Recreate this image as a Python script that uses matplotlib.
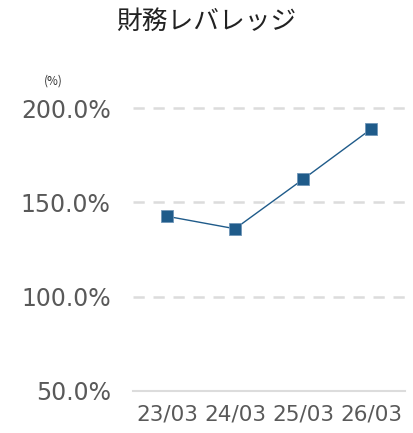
import matplotlib.pyplot as plt

categories = ["23/03", "24/03", "25/03", "26/03"]
leverage = [142.6, 136.0, 162.2, 188.8]
y_ticks = [50, 100, 150, 200]
y_labels = ["50.0%", "100.0%", "150.0%", "200.0%"]

W, H = 414, 433
fig = plt.figure(figsize=(W / 100, H / 100), dpi=100)
ax = fig.add_axes([133 / W, (H - 391) / H, (405 - 133) / W, (391 - 108) / H])

color = "#1f5b8a"
ax.plot(range(len(categories)), leverage, color=color, linewidth=1, marker="s",
        markersize=9, markerfacecolor=color, markeredgecolor="#6f96b8",
        markeredgewidth=0.6, clip_on=False, zorder=3)

ax.set_xlim(-0.5, len(categories) - 0.5)
ax.set_ylim(50, 200)
ax.set_xticks(range(len(categories)))
ax.set_xticklabels(categories, fontsize=15.5, color="#595959", family="DejaVu Sans")
ax.set_yticks(y_ticks)
ax.set_yticklabels(y_labels, fontsize=17, color="#595959", family="DejaVu Sans")
ax.tick_params(length=0, pad=16, axis="y")
ax.tick_params(length=0, pad=10, axis="x")

for v in y_ticks[1:]:
    ax.axhline(v, color="#dcdcdc", linewidth=1.8, linestyle=(0, (4.5, 3.5)), zorder=1, clip_on=False)

for side in ["top", "right", "left"]:
    ax.spines[side].set_visible(False)
ax.spines["bottom"].set_color("#dcdcdc")
ax.spines["bottom"].set_linewidth(1.5)

fig.text(206 / W, 1 - 22 / H, "財務レバレッジ", ha="center", va="center",
         fontsize=18.5, family="Noto Sans CJK JP", color="#222222")
fig.text(53 / W, 1 - 81 / H, "(%)", ha="center", va="center",
         fontsize=8.5, family="Noto Sans CJK JP", color="#333333")

fig.savefig("out.png", dpi=100)
